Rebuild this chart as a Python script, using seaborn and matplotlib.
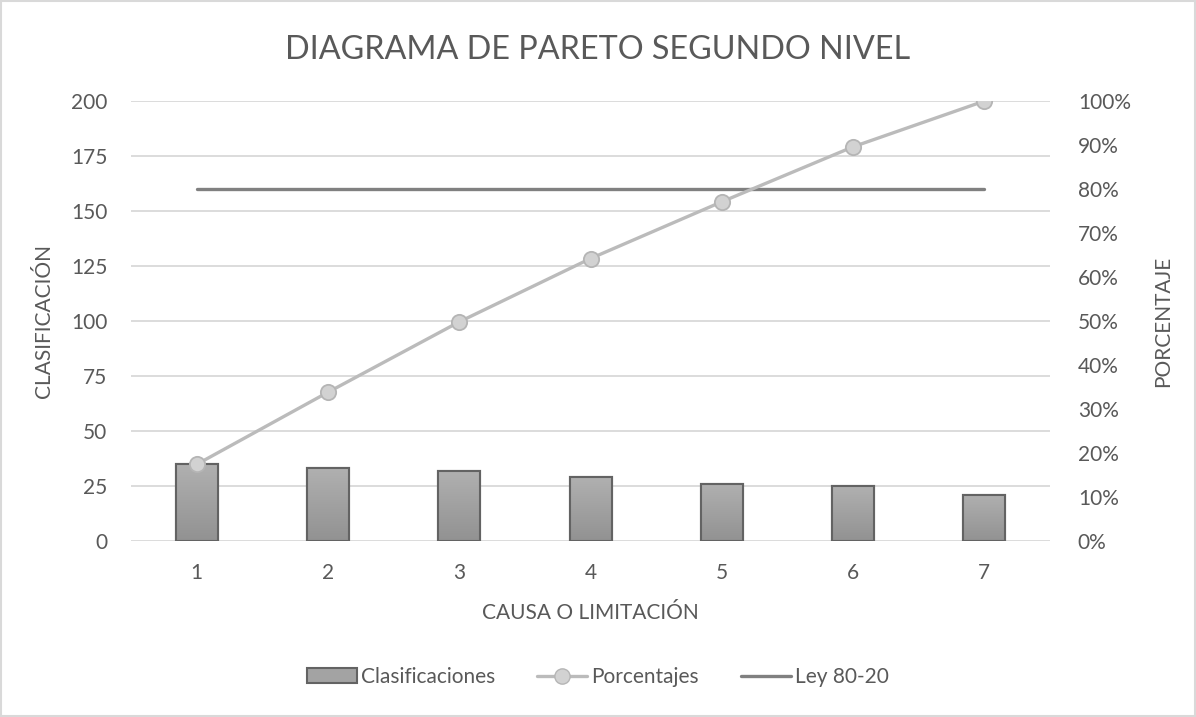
import numpy as np
import pandas as pd
import matplotlib
matplotlib.use("Agg")
import matplotlib.pyplot as plt
from matplotlib.patches import Rectangle, Patch
from matplotlib.lines import Line2D
from matplotlib.ticker import PercentFormatter
from matplotlib.colors import LinearSegmentedColormap
import seaborn as sns

categories = ["1", "2", "3", "4", "5", "6", "7"]
clasificaciones = [35, 33, 32, 29, 26, 25, 21]
porcentajes = [17.4, 33.8, 49.8, 64.2, 77.1, 89.6, 100.0]
ley_80_20 = [80, 80, 80, 80, 80, 80, 80]
left_ticks = [0, 25, 50, 75, 100, 125, 150, 175, 200]
right_ticks = [0, 10, 20, 30, 40, 50, 60, 70, 80, 90, 100]

sns.set_theme(style="white")
plt.rcParams["font.family"] = ["Lato", "DejaVu Sans"]
TXT = "#595959"
GRID = "#D9D9D9"

df = pd.DataFrame({"causa": categories, "clas": clasificaciones,
                   "pct": porcentajes, "ley": ley_80_20,
                   "pos": np.arange(len(categories))})

fig = plt.figure(figsize=(11.96, 7.17), dpi=100)
ax = fig.add_axes([0.1095, 0.2455, 0.7685, 0.6136])

sns.barplot(data=df, x="causa", y="clas", ax=ax, width=0.32,
            color="#A3A3A3", edgecolor="#636363", linewidth=1.5,
            saturation=1, zorder=3)

# gradient fill for bars (lighter at top, darker at bottom)
grad = np.linspace(0, 1, 100).reshape(-1, 1)
cmap = LinearSegmentedColormap.from_list("g", ["#B0B0B0", "#929292"])
for p in list(ax.patches):
    x0, y0 = p.get_x(), p.get_y()
    w, h = p.get_width(), p.get_height()
    im = ax.imshow(grad, extent=[x0, x0 + w, y0, y0 + h], cmap=cmap,
                   aspect="auto", zorder=3.5, origin="upper")
    im.set_clip_path(p)
    edge = Rectangle((x0, y0), w, h, fill=False, edgecolor="#636363",
                     linewidth=1.5, zorder=4)
    ax.add_patch(edge)

ax.set_xlim(-0.5, len(categories) - 0.5)
ax.set_ylim(0, 200)
ax.set_yticks(left_ticks)
ax.grid(axis="y", color=GRID, linewidth=1.3, zorder=0)
ax.grid(axis="x", visible=False)
for s in ax.spines.values():
    s.set_visible(False)
ax.tick_params(axis="both", length=0, labelsize=15, labelcolor=TXT)
ax.tick_params(axis="y", pad=17)
ax.tick_params(axis="x", pad=16)
ax.set_xlabel("CAUSA O LIMITACIÓN", fontsize=15, color=TXT, labelpad=14)
ax.set_ylabel("CLASIFICACIÓN", fontsize=15, color=TXT, labelpad=12)

ax2 = ax.twinx()
ax2.set_ylim(0, 100)
sns.lineplot(data=df, x="pos", y="ley", ax=ax2, color="#808080",
             linewidth=2.4, zorder=5)
sns.lineplot(data=df, x="pos", y="pct", ax=ax2, color="#BBBBBB",
             linewidth=2.4, marker="o", markersize=11,
             markerfacecolor="#D2D2D2", markeredgecolor="#B5B5B5",
             markeredgewidth=1.3, zorder=6)
ax2.set_xlim(-0.5, len(categories) - 0.5)
ax2.set_yticks(right_ticks)
ax2.yaxis.set_major_formatter(PercentFormatter(decimals=0))
ax2.grid(False)
for s in ax2.spines.values():
    s.set_visible(False)
ax2.tick_params(axis="y", length=0, labelsize=15, labelcolor=TXT, pad=20)
ax2.set_ylabel("PORCENTAJE", fontsize=15, color=TXT, labelpad=16,
               rotation=90)
ax2.set_xlabel("")

fig.suptitle("DIAGRAMA DE PARETO SEGUNDO NIVEL", y=0.951, fontsize=23.3,
             color=TXT)

handles = [
    Patch(facecolor="#A3A3A3", edgecolor="#636363", linewidth=1.5),
    Line2D([0], [0], color="#BBBBBB", linewidth=2.4, marker="o",
           markersize=11, markerfacecolor="#D2D2D2",
           markeredgecolor="#B5B5B5"),
    Line2D([0], [0], color="#808080", linewidth=2.4),
]
fig.legend(handles, ["Clasificaciones", "Porcentajes", "Ley 80-20"],
           loc="center", bbox_to_anchor=(0.5, 0.056), ncol=3, frameon=False,
           fontsize=15, labelcolor=TXT, handlelength=2.4, columnspacing=2.0,
           handletextpad=0.2)

fig.add_artist(Rectangle((0.001, 0.001), 0.998, 0.997, transform=fig.transFigure,
                         fill=False, edgecolor="#D9D9D9", linewidth=1.5))

fig.savefig("out.png", dpi=100)
